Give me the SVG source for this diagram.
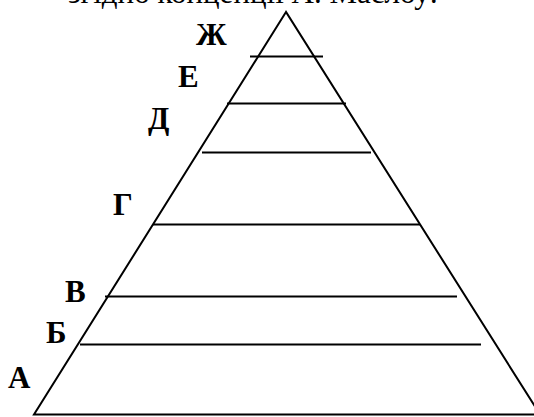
<svg xmlns="http://www.w3.org/2000/svg" width="534" height="417" viewBox="0 0 534 417">
<style>
.ln{stroke:#000;stroke-width:2;fill:none}
.lb{font-family:"Liberation Serif","Times New Roman",serif;font-weight:bold;font-size:31px;fill:#000}
.tt{font-family:"Liberation Serif","Times New Roman",serif;font-size:31px;fill:#000}
</style>
<rect width="534" height="417" fill="#fff"/>
<text class="tt" x="438" y="3" text-anchor="end">згідно концепції А. Маслоу:</text>
<g id="pyramid">
<polygon class="ln" points="286,12 34,414.5 540,414.5"/>
</g>
<g id="connectors">
<line class="ln" x1="250" y1="56.5" x2="323" y2="56.5"/>
<line class="ln" x1="227" y1="103.5" x2="346" y2="103.5"/>
<line class="ln" x1="202" y1="152.5" x2="371" y2="152.5"/>
<line class="ln" x1="153" y1="224.5" x2="420" y2="224.5"/>
<line class="ln" x1="105" y1="296.5" x2="457" y2="296.5"/>
<line class="ln" x1="80" y1="344.5" x2="481" y2="344.5"/>
</g>
<g id="label-zh"><text class="lb" x="196" y="45">Ж</text></g>
<g id="label-e"><text class="lb" x="178" y="87">Е</text></g>
<g id="label-d"><text class="lb" x="148" y="129">Д</text></g>
<g id="label-g"><text class="lb" x="113" y="215">Г</text></g>
<g id="label-v"><text class="lb" x="65" y="302">В</text></g>
<g id="label-b"><text class="lb" x="46" y="343">Б</text></g>
<g id="label-a"><text class="lb" x="8" y="388">А</text></g>
</svg>
